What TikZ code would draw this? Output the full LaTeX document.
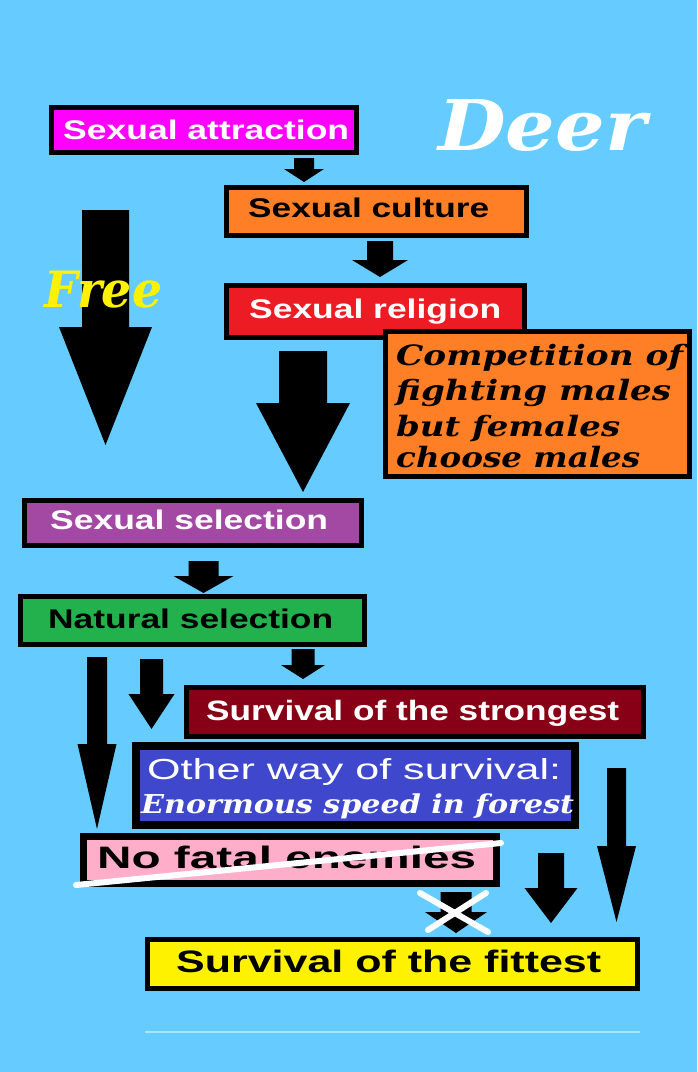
\documentclass[tikz,border=0pt]{standalone}
\usepackage{fontspec}
\setmainfont{Liberation Sans}
\newfontfamily\fancyfont{DejaVu Serif}
\usepackage{graphicx}
\usepackage{tikz}
\usetikzlibrary{positioning}
\usetikzlibrary{calc}

\definecolor{sky}{HTML}{66CCFF}
\definecolor{pinkish}{HTML}{FF00FF}
\definecolor{orangish}{HTML}{FF7F27}
\definecolor{reddish}{HTML}{ED1C24}
\definecolor{purplish}{HTML}{A349A4}
\definecolor{greenish}{HTML}{22B14C}
\definecolor{darkred}{HTML}{880015}
\definecolor{bluish}{HTML}{3F48CC}
\definecolor{rose}{HTML}{FFAEC9}
\definecolor{yellowish}{HTML}{FFF200}
\definecolor{paleline}{HTML}{A6E6FF}

% text squeezed/stretched to a given width
\newcommand{\wtext}[3]{\resizebox{#1pt}{\height}{\fontsize{#2}{#2}\selectfont #3}}
% block arrow: x, top, neck, tip, half shaft, half head
\newcommand{\blockarrow}[6]{\fill (#1-#5,#2) -- (#1+#5,#2) -- (#1+#5,#3) -- (#1+#6,#3) -- (#1,#4) -- (#1-#6,#3) -- (#1-#5,#3) -- cycle;}

\tikzset{
	box/.style={draw=black, line width=5pt, inner sep=0pt, outer sep=0pt},
	txt/.style={inner sep=0pt, anchor=base west, font=\bfseries},
	fancy/.style={inner sep=0pt, anchor=base west, font=\fancyfont\bfseries\itshape},
	strike/.style={draw=white, line width=6pt, line cap=round}
}

\begin{document}
\begin{tikzpicture}[x=1pt, y=-1pt]
	\fill[sky] (0,0) rectangle (697,1072);

	% boxes
	\node[box, fill=pinkish, minimum width=305, minimum height=45] (attraction) at (204,130) {};
	\node[box, fill=orangish, minimum width=300, minimum height=48] (culture) at (376.5,211.5) {};
	\node[box, fill=reddish, minimum width=298, minimum height=52] (religion) at (375.5,311.5) {};
	\node[box, fill=orangish, minimum width=304, minimum height=145] (competition) at (537.5,404) {};
	\node[box, fill=purplish, minimum width=337, minimum height=45] (selection) at (193,523) {};
	\node[box, fill=greenish, minimum width=344, minimum height=48] (natural) at (192.5,620.5) {};
	\node[box, fill=darkred, minimum width=457, minimum height=49] (strongest) at (415,712) {};
	\node[box, line width=8pt, fill=bluish, minimum width=439, minimum height=79] (otherway) at (355.5,785.5) {};
	\node[box, line width=7pt, fill=rose, minimum width=413, minimum height=47] (nofatal) at (290,860) {};
	\node[box, fill=yellowish, minimum width=490, minimum height=49] (fittest) at (392.5,964) {};

	% arrows
	\blockarrow{304}{158}{169}{182}{10}{20}
	\blockarrow{380}{241}{260}{277}{13}{28}
	\blockarrow{105.5}{210}{327}{445}{23.5}{46.5}
	\blockarrow{303}{351}{403}{492}{24}{47}
	\blockarrow{203.5}{561}{576}{593}{15}{30}
	\blockarrow{303}{649}{665}{679}{11.5}{22}
	\blockarrow{97}{657}{744}{829}{10}{19.5}
	\blockarrow{151.5}{659}{694}{729}{11.5}{23}
	\blockarrow{456}{892}{912}{933}{15.5}{31}
	\blockarrow{551}{853}{888}{923}{13}{26.5}
	\blockarrow{616.5}{768}{846}{922}{9.5}{19.5}

	% texts
	\node[txt, text=white] (attractiontxt) at (63,139) {\wtext{286}{27}{Sexual attraction}};
	\node[txt] (culturetxt) at (248,217) {\wtext{241}{27}{Sexual culture}};
	\node[txt, text=white] (religiontxt) at (249,318) {\wtext{252}{27}{Sexual religion}};
	\node[txt, text=white] (selectiontxt) at (50,529) {\wtext{278}{27}{Sexual selection}};
	\node[txt] (naturaltxt) at (48,628) {\wtext{285}{27}{Natural selection}};
	\node[txt, text=white] (strongesttxt) at (206,720) {\wtext{413}{28}{Survival of the strongest}};
	\node[txt, text=white, font=\mdseries] (otherwaytxt) at (147,779) {\wtext{414}{29}{Other way of survival:}};
	\node[fancy, text=white] (speedtxt) at (141,813) {\wtext{433}{26}{Enormous speed in forest}};
	\node[txt] (nofataltxt) at (97,868) {\wtext{379}{31}{No fatal enemies}};
	\node[txt] (fittesttxt) at (176,972) {\wtext{425}{31}{Survival of the fittest}};

	\node[fancy] (comp1) at (396,365) {\wtext{287}{28}{Competition of}};
	\node[fancy] (comp2) at (396,400) {\wtext{275}{28}{fighting males}};
	\node[fancy] (comp3) at (396,436) {\wtext{224}{28}{but females}};
	\node[fancy] (comp4) at (396,467) {\wtext{244}{28}{choose males}};

	\node[fancy, text=white] (deer) at (438,150) {\wtext{208}{70}{Deer}};
	\node[fancy, text=yellow] (free) at (44,307) {\wtext{118}{50}{Free}};

	% crossings
	\draw[strike] (76,885) -- (501,843);
	\draw[strike] (420,893) -- (488,932);
	\draw[strike] (486,893) -- (428,930);

	\draw[paleline, line width=1.5pt] (145,1032) -- (640,1032);
\end{tikzpicture}
\end{document}
